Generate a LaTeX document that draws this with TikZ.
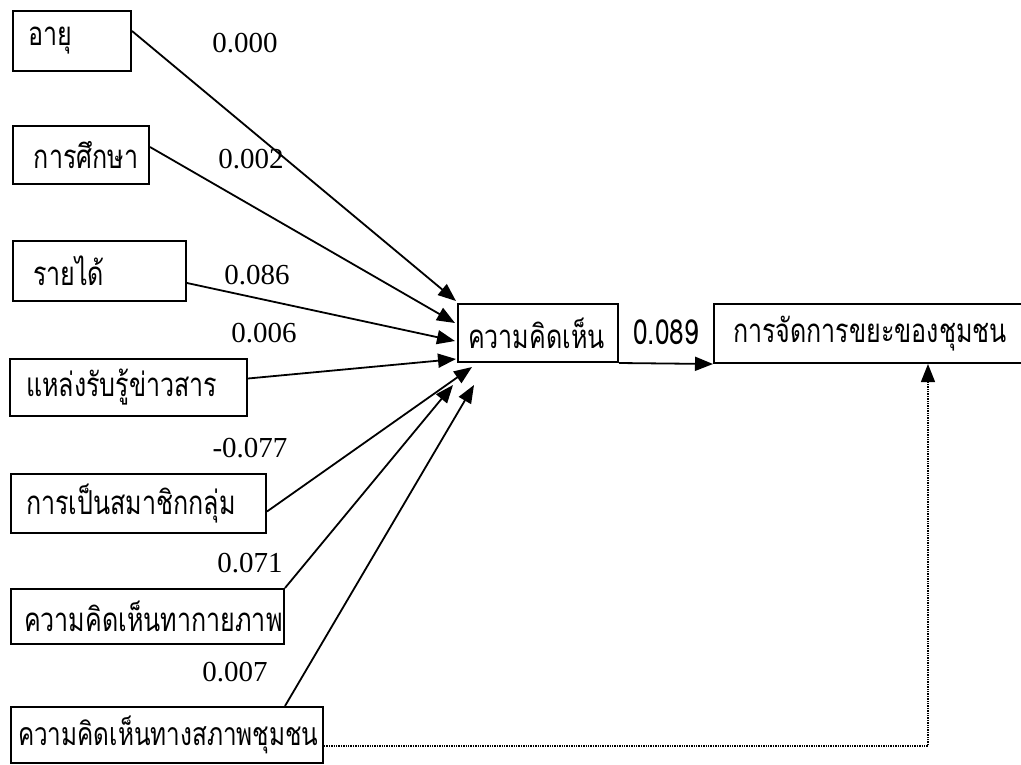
\documentclass[tikz,border=0pt]{standalone}
\usepackage{fontspec}
\setmainfont{Liberation Serif}
\newfontfamily\thaifont[Script=Thai, FakeStretch=0.76]{Loma}
\usetikzlibrary{arrows.meta,calc,positioning}
\tikzset{
varbox/.style = {draw, rectangle, line width=2pt, anchor=north west, align=left, font=\thaifont\fontsize{33}{36}\selectfont},
coef/.style = {inner sep=0pt, font=\fontsize{29}{32}\selectfont},
link/.style = {->, line width=1.8pt},
hidden/.style = {->, densely dotted, line width=1.4pt}
}
\begin{document}
\begin{tikzpicture}[x=1pt, y=-1pt, >={Triangle[length=18pt,width=14pt]}]
					\useasboundingbox (0,0) rectangle (1021,764);
					\node[varbox, inner xsep=15pt, text width=88pt, minimum height=60pt] (age) at (12,10) {อายุ};
					\node[varbox, inner xsep=21pt, text width=94pt, minimum height=58pt] (edu) at (12,125) {การศึกษา};
					\node[varbox, inner xsep=20pt, text width=133pt, minimum height=60pt] (inc) at (12,240) {รายได้};
					\node[varbox, inner xsep=16pt, text width=205pt, minimum height=57pt] (news) at (9,358) {แหล่งรับรู้ข่าวสาร};
					\node[varbox, inner xsep=15pt, text width=225pt, minimum height=59pt] (grp) at (10,473) {การเป็นสมาชิกกลุ่ม};
					\node[varbox, inner xsep=13pt, text width=247pt, minimum height=55pt] (phys) at (10,588) {ความคิดเห็นทากายภาพ};
					\node[varbox, inner xsep=7pt, text width=298pt, minimum height=56pt, font=\thaifont\fontsize{32}{36}\selectfont] (comm) at (10,706) {ความคิดเห็นทางสภาพชุมชน};
					\node[varbox, inner xsep=10pt, text width=140pt, minimum height=58pt] (opin) at (457,303) {ความคิดเห็น};
					\node[varbox, inner xsep=19pt, text width=282pt, minimum height=59pt] (mgmt) at (713,303) {การจัดการขยะของชุมชน};
					\node[coef] (c1) at (245,43) {0.000};
					\node[coef] (c2) at (251,159) {0.002};
					\node[coef] (c3) at (257,275) {0.086};
					\node[coef] (c4) at (264,333) {0.006};
					\node[coef] (c5) at (250,448) {-0.077};
					\node[coef] (c6) at (250,563) {0.071};
					\node[coef] (c7) at (235,672) {0.007};
					\node[coef, font=\thaifont\fontsize{34.5}{36}\selectfont] (c8) at (666,332) {0.089};
					\draw[link] ($(age.east)+(0,-10)$) -- ($(opin.north west)+(-1,-2)$);
					\draw[link] ($(edu.east)+(0,-8)$) -- ($(opin.west)+(-2,-10)$);
					\draw[link] ($(inc.east)+(0,12)$) -- ($(opin.west)+(-2,8)$);
					\draw[link] ($(news.east)+(0,-9)$) -- ($(opin.south west)+(-1,-4)$);
					\draw[link] ($(grp.east)+(0,8)$) -- ($(opin.south west)+(15,4)$);
					\draw[link] (phys.north east) -- ($(opin.south west)+(-4,22)$);
					\draw[link] ($(comm.north east)+(-39,0)$) -- ($(opin.south west)+(17,22)$);
					\draw[link] (opin.south east) -- (mgmt.south west);
					\draw[hidden] ($(comm.east)+(0,11)$) -| ($(mgmt.south west)+(215,0)$);
				\end{tikzpicture}
\end{document}
